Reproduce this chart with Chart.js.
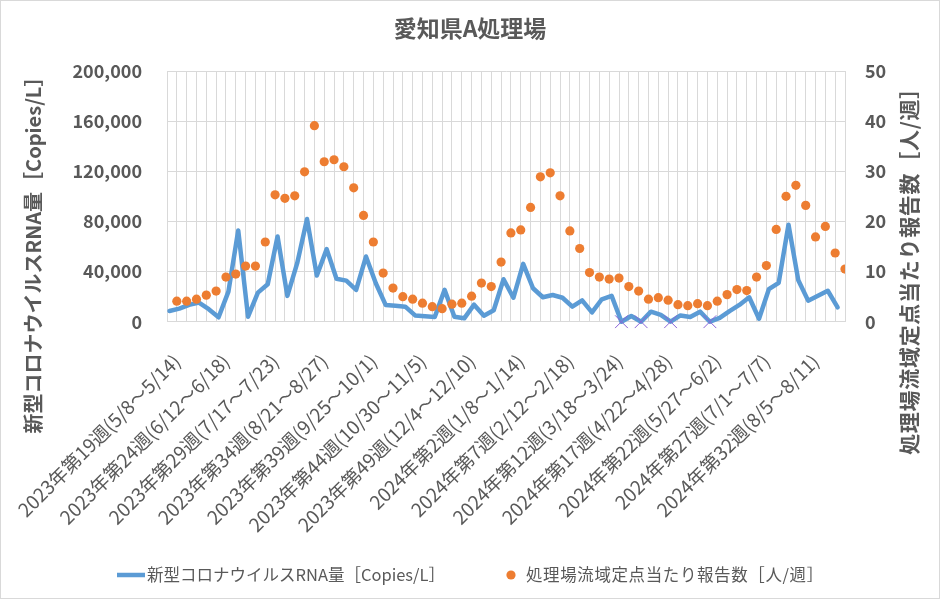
<!DOCTYPE html>
<html>
<head>
<meta charset="utf-8">
<script src="https://cdn.jsdelivr.net/npm/chart.js@4.4.1/dist/chart.umd.min.js"></script>
<style>
  body { margin: 0; background: #fff; }
</style>
</head>
<body>
<canvas id="myChart" width="940" height="599"></canvas>
<script>
// weeks 2023 wk19 .. 2024 wk35
const weeks = [];
const startDates = [
  '5/8','5/15','5/22','5/29','6/5','6/12','6/19','6/26','7/3','7/10','7/17','7/24','7/31','8/7','8/14','8/21','8/28','9/4','9/11','9/18','9/25','10/2','10/9','10/16','10/23','10/30','11/6','11/13','11/20','11/27','12/4','12/11','12/18','12/25',
  '1/1','1/8','1/15','1/22','1/29','2/5','2/12','2/19','2/26','3/4','3/11','3/18','3/25','4/1','4/8','4/15','4/22','4/29','5/6','5/13','5/20','5/27','6/3','6/10','6/17','6/24','7/1','7/8','7/15','7/22','7/29','8/5','8/12','8/19','8/26'
];
const endDates = [
  '5/14','5/21','5/28','6/4','6/11','6/18','6/25','7/2','7/9','7/16','7/23','7/30','8/6','8/13','8/20','8/27','9/3','9/10','9/17','9/24','10/1','10/8','10/15','10/22','10/29','11/5','11/12','11/19','11/26','12/3','12/10','12/17','12/24','12/31',
  '1/7','1/14','1/21','1/28','2/4','2/11','2/18','2/25','3/3','3/10','3/17','3/24','3/31','4/7','4/14','4/21','4/28','5/5','5/12','5/19','5/26','6/2','6/9','6/16','6/23','6/30','7/7','7/14','7/21','7/28','8/4','8/11','8/18','8/25','9/1'
];
for (let i = 0; i < 69; i++) {
  let y = i < 34 ? 2023 : 2024;
  let w = i < 34 ? 19 + i : i - 33;
  weeks.push(y + '年第' + w + '週(' + startDates[i] + '～' + endDates[i] + ')');
}

// RNA量 [Copies/L]
const rna = [
  8500, 10400, 13400, 15200, 10000, 3500, 24000, 72800, 4000, 23200,
  29900, 68000, 20600, 46700, 81900, 36800, 57900, 34300, 32800, 25400,
  52000, 30700, 13400, 12800, 12000, 5000, 4300, 3700, 25400, 4000,
  2700, 13600, 4700, 9100, 33900, 19100, 46100, 26700, 19500, 21300,
  19100, 12000, 17000, 7400, 17900, 20600, 0, 4500, 0, 8000,
  5400, 0, 5000, 3800, 8000, 0, 3100, 8500, 13400, 19500,
  2400, 25900, 31000, 77400, 33000, 16800, 20700, 24700, 11500
];

// 定点当たり報告数 [人/週]
const reports = [
  4.1, 4.1, 4.5, 5.3, 6.1, 8.9, 9.5, 11.1, 11.1, 15.9,
  25.3, 24.6, 25.1, 29.9, 39.1, 31.9, 32.3, 30.9, 26.7, 21.2,
  15.9, 9.7, 6.7, 5.0, 4.5, 3.7, 3.0, 2.6, 3.5, 3.7,
  5.1, 7.7, 7.0, 11.9, 17.7, 18.3, 22.8, 28.9, 29.7, 25.1,
  18.1, 14.6, 9.8, 8.9, 8.5, 8.7, 7.0, 6.1, 4.5, 4.8,
  4.3, 3.4, 3.2, 3.6, 3.2, 4.1, 5.4, 6.4, 6.2, 8.9,
  11.2, 18.4, 25.0, 27.2, 23.2, 16.9, 19.0, 13.7, 10.5
];

// weeks where RNA was below the detection limit (x marks)
const notDetected = [46, 48, 51, 55];

const leftTitle = '新型コロナウイルスRNA量［Copies/L］';
const rightTitle = '処理場流域定点当たり報告数［人/週］';
const FONT = '"Noto Sans CJK JP", "Noto Sans", sans-serif';
const GRAY = '#595959';
const GRID = '#D9D9D9';
const BLUE = '#5B9BD5';
const ORANGE = '#ED7D31';

const lineShift = 0.25;
const dotShift = 1;

function drawVertical(c, text, x, y, size, spacing) {
  c.save();
  c.fillStyle = GRAY;
  c.font = 'bold ' + size + 'px ' + FONT;
  c.letterSpacing = spacing + 'px';
  c.textAlign = 'center';
  c.textBaseline = 'middle';
  c.translate(x, y);
  c.rotate(-Math.PI / 2);
  c.fillText(text, 0, 0);
  c.restore();
}

const frame = {
  id: 'frame',
  beforeDraw(chart) {
    let c = chart.ctx;
    c.save();
    c.fillStyle = '#fff';
    c.fillRect(0, 0, chart.width, chart.height);
    c.strokeStyle = GRID;
    c.lineWidth = 1;
    c.strokeRect(0.5, 0.5, chart.width - 1, chart.height - 1);
    c.restore();
  },
  afterDraw(chart) {
    let c = chart.ctx;
    drawVertical(c, leftTitle, 33, 250, 20, 0);
    drawVertical(c, rightTitle, 909, 266, 21, 0.7);

    // legend
    let ds = chart.data.datasets;
    c.save();
    c.font = '16.5px ' + FONT;
    c.fillStyle = GRAY;
    c.textBaseline = 'middle';
    c.strokeStyle = BLUE;
    c.lineWidth = 4.5;
    c.beginPath(); c.moveTo(117, 575); c.lineTo(145, 575); c.stroke();
    c.fillText(ds[0].label, 147, 575);
    c.fillStyle = ORANGE;
    c.beginPath(); c.arc(511, 575, 4.6, 0, Math.PI * 2); c.fill();
    c.fillStyle = GRAY;
    c.letterSpacing = '0.6px';
    c.fillText(ds[1].label, 526, 575);
    c.restore();
  }
};

var ctx = document.getElementById('myChart').getContext('2d');

myChart = new Chart(ctx, {
  type: 'line',
  data: {
    datasets: [
      {
        label: '新型コロナウイルスRNA量［Copies/L］',
        data: rna.map((v, i) => ({ x: i + lineShift, y: v })),
        borderColor: BLUE,
        backgroundColor: BLUE,
        borderWidth: 4.5,
        borderCapStyle: 'round',
        borderJoinStyle: 'round',
        pointRadius: 0,
        tension: 0,
        yAxisID: 'y',
        clip: false,
        order: 2
      },
      {
        label: '処理場流域定点当たり報告数［人/週］',
        type: 'scatter',
        data: reports.map((v, i) => ({ x: i + dotShift, y: v })),
        backgroundColor: ORANGE,
        borderColor: ORANGE,
        borderWidth: 0,
        pointRadius: 4.6,
        pointStyle: 'circle',
        yAxisID: 'y2',
        order: 1
      },
      {
        label: 'nd',
        type: 'scatter',
        data: notDetected.map(i => ({ x: i + lineShift, y: 0 })),
        pointStyle: 'crossRot',
        pointRadius: 9,
        borderColor: '#8B62D6',
        backgroundColor: '#8B62D6',
        borderWidth: 1,
        yAxisID: 'y',
        clip: false,
        order: 0
      }
    ]
  },
  options: {
    responsive: false,
    animation: false,
    devicePixelRatio: 1,
    layout: { padding: 0 },
    plugins: {
      title: {
        display: true,
        text: '愛知県A処理場',
        color: GRAY,
        font: { family: FONT, size: 23, weight: 'bold', lineHeight: 1.2 },
        padding: { top: 14, bottom: 29.4 }
      },
      legend: { display: false },
      tooltip: { enabled: false }
    },
    scales: {
      x: {
        type: 'linear',
        min: 0,
        max: 69,
        afterFit: s => { s.height = 277.3; },
        grid: { color: GRID, drawTicks: false },
        border: { color: GRID },
        ticks: {
          stepSize: 1,
          maxTicksLimit: 100,
          autoSkip: false,
          minRotation: 45,
          maxRotation: 45,
          padding: 28,
          color: GRAY,
          font: { family: FONT, size: 19 },
          callback: function (v) {
            let i = v - dotShift;
            if (i >= 0 && i < weeks.length && i % 5 === 0) return weeks[i];
            return '';
          }
        }
      },
      y: {
        position: 'left',
        min: 0,
        max: 200000,
        afterFit: s => { s.width = 167; },
        grid: { color: GRID, drawTicks: false },
        border: { color: GRID },
        ticks: {
          stepSize: 40000,
          padding: 25,
          color: GRAY,
          font: { family: FONT, size: 18, weight: 'bold' },
          callback: v => v.toLocaleString('en-US')
        }
      },
      y2: {
        position: 'right',
        min: 0,
        max: 50,
        afterFit: s => { s.width = 95; },
        grid: { display: false, drawTicks: false },
        border: { display: false },
        ticks: {
          stepSize: 10,
          padding: 20,
          color: GRAY,
          font: { family: FONT, size: 18, weight: 'bold' }
        }
      }
    }
  },
  plugins: [frame]
});
</script>
</body>
</html>
